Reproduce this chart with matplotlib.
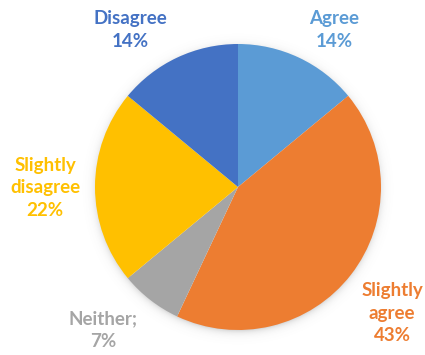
import numpy as np
import matplotlib
matplotlib.use("Agg")
from matplotlib import pyplot as plt

# survey answers, clockwise from 12 o'clock
labels = ["Agree", "Slightly\nagree", "Neither;", "Slightly\ndisagree", "Disagree"]
values = [14, 43, 7, 22, 14]
colors = ["#5B9BD5", "#ED7D31", "#A5A5A5", "#FFC000", "#4472C4"]

# label anchor points (pixels from top-left)
label_pos = [(334, 30), (392, 313), (103, 330), (45, 188), (130, 30)]

W, H = 425, 355
fig = plt.figure(figsize=(W / 100, H / 100), dpi=100)
ax = fig.add_axes([0, 0, 1, 1])

cx, cy, r = 238, H - 187, 143

# soft drop shadow round the pie
xx, yy = np.meshgrid(np.arange(W) + 0.5, np.arange(H) + 0.5)
d = np.hypot(xx - cx, yy - (cy - 2)) - r
alpha = np.where(d > -4, 0.45 * np.exp(-np.clip(d + 4, 0, None) / 3.5), 0)
shadow = np.zeros((H, W, 4))
shadow[..., :3] = 0.35
shadow[..., 3] = alpha
ax.imshow(shadow, extent=(0, W, 0, H), origin="lower", zorder=0)

ax.pie(values, colors=colors, startangle=90, counterclock=False,
       center=(cx, cy), radius=r, frame=True,
       wedgeprops=dict(linewidth=0))
ax.set_xlim(0, W)
ax.set_ylim(0, H)
ax.set_aspect("equal")
ax.axis("off")

for name, v, c, (px, py) in zip(labels, values, colors, label_pos):
    ax.text(px, H - py, f"{name}\n{v}%", color=c, ha="center", va="center",
            fontsize=13.5, fontweight="bold", family="Lato",
            linespacing=1.42, zorder=5)

fig.savefig("out.png", dpi=100)
